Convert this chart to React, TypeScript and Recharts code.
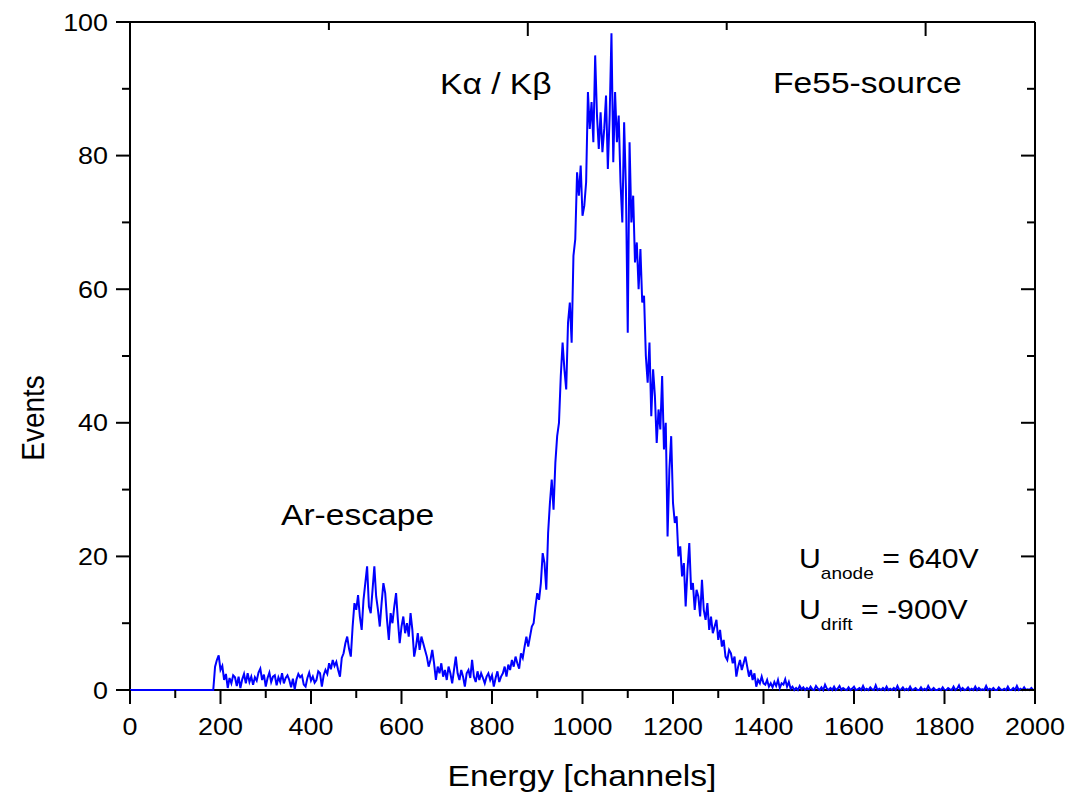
import React from 'react';
import { LineChart, Line, XAxis, YAxis } from 'recharts';

// Flat (zero) region before the threshold
const FLAT_CHANNELS = [0, 184];
const FLAT_EVENTS = [0, 0];

// Spectrum from channel 188 onward, one value every 4 channels
const START_CHANNEL = 188;
const CHANNEL_STEP = 4;

const eventsLowRegion = [
  // 188-284
  3.5, 4.5, 5.2, 3.0, 3.6, 1.5, 2.4, 0.3, 1.8, 1.0, 2.2, 1.9, 0.6, 2.0, 0.3, 1.6, 2.4, 1.0, 2.5, 1.2, 2.0, 0.8, 1.9, 1.4, 2.6,
  // 288-384
  3.2, 1.5, 2.3, 0.5, 1.8, 2.6, 1.2, 2.0, 2.2, 0.7, 1.9, 1.2, 2.5, 1.0, 1.8, 2.2, 1.5, 0.4, 1.7, 0.1, 1.6, 2.4, 1.9, 2.2, 0.8,
  // 388-484
  0.5, 1.8, 2.6, 1.4, 2.0, 1.1, 1.5, 2.8, 2.5, 0.5, 2.2, 3.0, 2.4, 4.0, 3.1, 4.5, 3.6, 4.2, 3.0, 2.0, 4.8, 5.5, 7.0, 8.0, 6.2,
];

const eventsArEscape = [
  // 488-584
  5.0, 9.5, 13.0, 12.0, 14.2, 11.0, 9.0, 13.5, 16.0, 18.5, 12.5, 11.5, 15.0, 18.5, 14.0, 12.0, 9.5, 13.0, 16.0, 14.5, 10.5, 7.5, 11.5, 10.0, 12.5,
  // 588-684
  14.5, 10.5, 7.0, 9.5, 11.0, 8.5, 10.0, 8.0, 11.5, 9.0, 5.0, 6.5, 8.5, 6.0, 8.0, 7.0, 6.0, 5.0, 3.5, 4.5, 6.0, 4.0, 1.5, 3.5, 2.5,
  // 688-784
  4.0, 2.0, 3.0, 1.5, 3.5, 2.5, 1.0, 3.0, 5.0, 2.5, 1.5, 3.0, 2.0, 0.5, 2.5, 3.0, 1.8, 4.5, 2.0, 1.2, 2.8, 1.5, 2.5, 1.8, 1.0,
  // 788-884
  2.0, 2.5, 1.5, 2.2, 0.5, 1.8, 2.8, 1.2, 2.0, 2.5, 3.5, 2.0, 3.8, 3.0, 4.5, 3.5, 5.0, 4.0, 3.2, 5.5, 4.8, 6.5, 8.0, 6.5, 8.0,
];

const eventsMainPeak = [
  // 888-984
  9.5, 10.0, 12.5, 14.5, 13.5, 16.0, 20.5, 19.0, 15.0, 23.5, 28.0, 31.5, 27.0, 34.0, 38.0, 40.0, 47.0, 52.0, 48.0, 45.0, 55.0, 58.0, 52.0, 65.0, 67.5,
  // 988-1084
  77.5, 74.0, 78.5, 71.0, 72.5, 76.0, 89.5, 84.0, 88.0, 82.0, 95.0, 86.0, 81.0, 86.5, 80.5, 84.0, 89.0, 78.0, 86.0, 98.3, 79.0, 89.5, 82.0, 86.0, 76.0,
  // 1088-1184
  70, 85, 75, 53.5, 82, 70, 74, 64, 67, 60, 66, 58, 59, 50, 46, 52, 41, 48, 44, 37, 42, 39, 47, 36, 40,
  // 1188-1284
  23, 33, 38, 28, 25, 26, 20, 21.5, 17, 19, 12.5, 18, 22, 15, 16, 12, 15, 14, 11, 16.5, 12, 10.5, 13, 9, 11,
  // 1288-1384
  8.5, 9.5, 10.5, 7.5, 9, 6.5, 7.5, 5, 4.5, 6, 5.5, 4, 5, 2, 3.5, 4.5, 3, 4, 5, 3.5, 2, 3, 1.5, 2.5, 0.5,
  // 1388-1484
  1.5, 1, 2, 1, 0.8, 1.5, 0.5, 1, 0.4, 1.2, 0.6, 1.5, 0.3, 1, 0.8, 1.6, 0.5, 1.2, 0.2, 0.5, 0, 0.3, 0, 0.6, 0.1,
];

const eventsTail = [
  // 1488-1584
  0.4, 0, 0.3, 0, 0.5, 0.1, 0, 0.6, 0.2, 0, 0.4, 0, 0.8, 0.2, 0, 0.3, 0, 0.5, 0, 0.2, 0.6, 0, 0.3, 0.1, 0,
  // 1588-1684
  0.4, 0, 0.2, 0.5, 0, 0.1, 0.3, 0, 0.6, 0, 0.2, 0, 0.4, 0.1, 0, 0.7, 0, 0.2, 0, 0.3, 0, 0.5, 0, 0.2, 0,
  // 1688-1784
  0.3, 0, 0.6, 0, 0.1, 0.4, 0, 0.2, 0, 0.5, 0, 0.1, 0.3, 0, 0, 0.4, 0, 0.2, 0, 0.6, 0.1, 0, 0.3, 0, 0,
  // 1788-1884
  0.2, 0, 0.4, 0, 0, 0.3, 0.1, 0, 0.5, 0, 0.2, 0.7, 0, 0.3, 0, 0.1, 0.4, 0, 0.2, 0, 0.5, 0, 0.3, 0, 0.1,
  // 1888-1984
  0, 0.6, 0, 0.2, 0, 0.3, 0, 0, 0.4, 0.1, 0, 0.2, 0, 0.5, 0, 0, 0.3, 0, 0.6, 0, 0.2, 0, 0.4, 0, 0.1,
  // 1988-2000
  0, 0.3, 0, 0,
];

const X_MAJOR_TICKS = [0, 200, 400, 600, 800, 1000, 1200, 1400, 1600, 1800, 2000];
const X_MINOR_TICKS = [100, 300, 500, 700, 900, 1100, 1300, 1500, 1700, 1900];
const Y_MAJOR_TICKS = [0, 20, 40, 60, 80, 100];
const Y_MINOR_TICKS = [10, 30, 50, 70, 90];

const sampled = [...eventsLowRegion, ...eventsArEscape, ...eventsMainPeak, ...eventsTail];
const spectrum = [
  ...FLAT_CHANNELS.map((c, i) => ({ channel: c, events: FLAT_EVENTS[i] })),
  ...sampled.map((v, i) => ({ channel: START_CHANNEL + i * CHANNEL_STEP, events: v })),
];

const X_ALL_TICKS = [...X_MAJOR_TICKS, ...X_MINOR_TICKS].sort((a, b) => a - b);
const Y_ALL_TICKS = [...Y_MAJOR_TICKS, ...Y_MINOR_TICKS].sort((a, b) => a - b);

const FONT = '"Liberation Sans", Arial, Helvetica, sans-serif';
const SX = 1.12;
const MAJOR_LEN = 14;
const MINOR_LEN = 8;
const TICK_W = 2;

const BottomTick = (props: any) => {
  const { x, y, payload } = props;
  const major = X_MAJOR_TICKS.includes(payload.value);
  return (
    <g>
      <line x1={x} x2={x} y1={y} y2={y + (major ? MAJOR_LEN : MINOR_LEN)} stroke="#000" strokeWidth={TICK_W} />
      {major && (
        <text
          transform={`translate(${x},${y + 45}) scale(${SX},1)`}
          textAnchor="middle"
          fontFamily={FONT}
          fontSize={24}
          fill="#000"
        >
          {payload.value}
        </text>
      )}
    </g>
  );
};

const TopTick = (props: any) => {
  const { x, y, payload } = props;
  const major = X_MAJOR_TICKS.includes(payload.value);
  return <line x1={x} x2={x} y1={y} y2={y + (major ? MAJOR_LEN : MINOR_LEN)} stroke="#000" strokeWidth={TICK_W} />;
};

const LeftTick = (props: any) => {
  const { x, y, payload } = props;
  const major = Y_MAJOR_TICKS.includes(payload.value);
  return (
    <g>
      <line x1={x - (major ? MAJOR_LEN : MINOR_LEN)} x2={x} y1={y} y2={y} stroke="#000" strokeWidth={TICK_W} />
      {major && (
        <text
          transform={`translate(${x - 22},${y + 8.6}) scale(${SX},1)`}
          textAnchor="end"
          fontFamily={FONT}
          fontSize={24}
          fill="#000"
        >
          {payload.value}
        </text>
      )}
    </g>
  );
};

const RightTick = (props: any) => {
  const { x, y, payload } = props;
  const major = Y_MAJOR_TICKS.includes(payload.value);
  return <line x1={x - (major ? MAJOR_LEN : MINOR_LEN)} x2={x} y1={y} y2={y} stroke="#000" strokeWidth={TICK_W} />;
};

const axisLineStyle = { stroke: '#000', strokeWidth: 2 };

export default function App() {
  const lineProps: any = { zIndex: 1000 };
  return (
    <div style={{ position: 'absolute', left: 0, top: 0, width: 1079, height: 795, background: '#fff' }}>
      <LineChart
        width={1079}
        height={795}
        data={spectrum}
        margin={{ top: 21, right: 43, bottom: 104, left: 129 }}
      >
        <XAxis
          xAxisId="b"
          dataKey="channel"
          type="number"
          domain={[0, 2000]}
          ticks={X_ALL_TICKS}
          interval={0}
          height={1}
          tickSize={0}
          tickMargin={0}
          axisLine={axisLineStyle}
          tickLine={false}
          tick={BottomTick}
        />
        <XAxis
          xAxisId="t"
          orientation="top"
          type="number"
          domain={[0, 2000]}
          allowDataOverflow
          ticks={X_ALL_TICKS}
          interval={0}
          height={1}
          tickSize={0}
          tickMargin={0}
          axisLine={axisLineStyle}
          tickLine={false}
          tick={TopTick}
        />
        <YAxis
          yAxisId="l"
          type="number"
          domain={[0, 100]}
          ticks={Y_ALL_TICKS}
          interval={0}
          width={1}
          tickSize={0}
          tickMargin={0}
          axisLine={axisLineStyle}
          tickLine={false}
          tick={LeftTick}
        />
        <YAxis
          yAxisId="r"
          orientation="right"
          type="number"
          domain={[0, 100]}
          allowDataOverflow
          ticks={Y_ALL_TICKS}
          interval={0}
          width={1}
          tickSize={0}
          tickMargin={0}
          axisLine={axisLineStyle}
          tickLine={false}
          tick={RightTick}
        />
        <Line
          {...lineProps}
          xAxisId="b"
          yAxisId="l"
          type="linear"
          dataKey="events"
          stroke="#0000ff"
          strokeWidth={2}
          dot={false}
          activeDot={false}
          isAnimationActive={false}
        />
      </LineChart>
      <svg
        width={1079}
        height={795}
        style={{ position: 'absolute', left: 0, top: 0, pointerEvents: 'none' }}
        fontFamily={FONT}
        fill="#000"
      >
        <text transform={`translate(440,94) scale(${SX},1)`} fontSize={30}>Kα / Kβ</text>
        <text transform={`translate(773,93) scale(${SX},1)`} fontSize={30}>Fe55-source</text>
        <text transform={`translate(281,525) scale(${SX},1)`} fontSize={30}>Ar-escape</text>
        <text transform={`translate(799,568) scale(${SX},1)`} fontSize={27}>
          U<tspan fontSize={17} dy={11}>anode</tspan>
          <tspan dy={-11}> = 640V</tspan>
        </text>
        <text transform={`translate(799,619) scale(${SX},1)`} fontSize={27}>
          U<tspan fontSize={17} dy={11}>drift</tspan>
          <tspan dy={-11}> = -900V</tspan>
        </text>
        <text transform={`translate(582,786) scale(${SX},1)`} fontSize={30} textAnchor="middle">
          Energy [channels]
        </text>
        <text transform={`translate(44,418) rotate(-90) scale(1,${SX})`} fontSize={28} textAnchor="middle">
          Events
        </text>
      </svg>
    </div>
  );
}
